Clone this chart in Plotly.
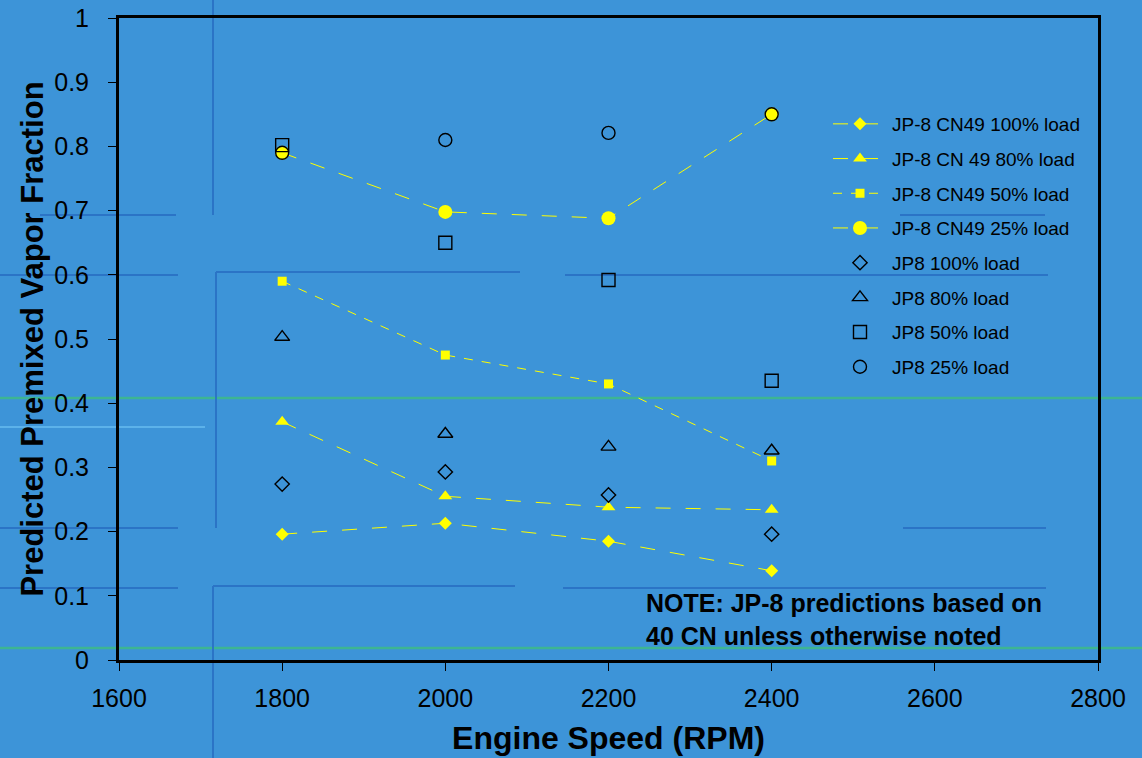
import plotly.graph_objects as go

rpm = [1800, 2000, 2200, 2400]

cn49_100 = [0.196, 0.213, 0.185, 0.139]
cn49_80 = [0.371, 0.255, 0.238, 0.234]
cn49_50 = [0.590, 0.475, 0.430, 0.310]
cn49_25 = [0.790, 0.698, 0.688, 0.850]

jp8_100 = [0.274, 0.293, 0.257, 0.196]
jp8_80 = [0.503, 0.352, 0.332, 0.326]
jp8_50 = [0.802, 0.650, 0.592, 0.435]
jp8_25 = [0.790, 0.810, 0.821, 0.850]

x_ticks = [1600, 1800, 2000, 2200, 2400, 2600, 2800]
y_ticks = [0, 0.1, 0.2, 0.3, 0.4, 0.5, 0.6, 0.7, 0.8, 0.9, 1]

BG = "#3d94d8"
YEL = "#ffff00"
FONT = "Liberation Sans, Arial, sans-serif"

W, H = 1142, 758
ML, MR, MT, MB = 119, 44, 18, 98
PW, PH = W - ML - MR, H - MT - MB

fig = go.Figure()

filled_series = [
    ("JP-8 CN49 100% load", cn49_100, "diamond", 10, "longdash"),
    ("JP-8 CN 49 80% load", cn49_80, "triangle-up", 12, "longdash"),
    ("JP-8 CN49 50% load", cn49_50, "square", 9, "dash"),
    ("JP-8 CN49 25% load", cn49_25, "circle", 14, "longdash"),
]
open_series = [
    ("JP8 100% load", jp8_100, "diamond-open", 11),
    ("JP8 80% load", jp8_80, "triangle-up-open", 13),
    ("JP8 50% load", jp8_50, "square-open", 13),
    ("JP8 25% load", jp8_25, "circle-open", 13),
]

rank = 0
for name, ys, sym, size, dash in filled_series:
    rank += 1
    fig.add_trace(go.Scatter(
        x=rpm, y=ys, name=name, mode="lines+markers",
        line=dict(color=YEL, width=1, dash=dash),
        marker=dict(symbol=sym, size=size, color=YEL, line=dict(width=0)),
        legendgroup=name, legendrank=rank,
    ))
for name, ys, sym, size in open_series:
    rank += 1
    fig.add_trace(go.Scatter(
        x=rpm, y=ys, name=name, mode="markers",
        marker=dict(symbol=sym, size=size, color="black", line=dict(width=1.4, color="black")),
        legendgroup=name, legendrank=rank,
    ))


def px(x):
    return (x - ML) / PW


def py(y):
    return (H - MB - y) / PH


# decorative slide-background lines (pixel positions converted to paper coords)
DARK = "#2b74c6"
GREEN = "#3db592"
CYAN = "#67bdf0"
deco = [
    (0, 1142, 398, GREEN, 2.5),
    (0, 1142, 648, GREEN, 2.5),
    (0, 205, 427, CYAN, 1.5),
    (40, 176, 215, DARK, 2),
    (900, 1045, 215, DARK, 2),
    (0, 178, 275, DARK, 2),
    (216, 520, 272, DARK, 2),
    (565, 1048, 275, DARK, 2),
    (0, 178, 528, DARK, 2),
    (903, 1046, 528, DARK, 2),
    (0, 178, 588, DARK, 2),
    (213, 515, 586, DARK, 2),
    (563, 1046, 588, DARK, 2),
]
for x0, x1, y, c, w in deco:
    fig.add_shape(type="line", xref="paper", yref="paper",
                  x0=px(x0), x1=px(x1), y0=py(y), y1=py(y),
                  line=dict(color=c, width=w), layer="below")
vdeco = [
    (213, 0, 215),
    (216, 272, 528),
    (213, 586, 758),
]
for x, y0, y1 in vdeco:
    fig.add_shape(type="line", xref="paper", yref="paper",
                  x0=px(x), x1=px(x), y0=py(y0), y1=py(y1),
                  line=dict(color=DARK, width=2), layer="below")

fig.add_annotation(
    text="NOTE: JP-8 predictions based on<br>40 CN unless otherwise noted",
    xref="x", yref="y", x=2244, y=0.063, xanchor="left", yanchor="middle",
    showarrow=False, align="left",
    font=dict(family=FONT, size=25, color="black", weight="bold"),
)

fig.update_layout(
    width=W, height=H,
    paper_bgcolor=BG, plot_bgcolor=BG,
    margin=dict(l=ML, r=MR, t=MT, b=MB),
    font=dict(family=FONT, color="black"),
    showlegend=True,
    legend=dict(
        x=px(828), y=py(105), xanchor="left", yanchor="top",
        bgcolor="rgba(0,0,0,0)", font=dict(size=19, color="black"),
        traceorder="grouped", tracegroupgap=7, itemwidth=54,
    ),
    xaxis=dict(
        range=[1600, 2800], tickvals=x_ticks, showgrid=False, zeroline=False,
        showline=True, linecolor="black", linewidth=3, mirror=True,
        ticks="outside", ticklen=8, tickcolor="black", tickwidth=1,
        ticklabelstandoff=6, automargin=False,
        tickfont=dict(size=25, color="black"),
        title=dict(text="<b>Engine Speed (RPM)</b>", font=dict(size=32, color="black"), standoff=16),
    ),
    yaxis=dict(
        range=[0, 1], tickvals=y_ticks, ticktext=[f"{v:g}" for v in y_ticks],
        showgrid=False, zeroline=False,
        showline=True, linecolor="black", linewidth=3, mirror=True,
        ticks="outside", ticklen=8, tickcolor="black", tickwidth=1,
        ticklabelstandoff=14, automargin=False,
        tickfont=dict(size=25, color="black"),
        title=dict(text="<b>Predicted Premixed Vapor Fraction</b>", font=dict(size=31, color="black"), standoff=2),
    ),
)

fig.write_html(
    "out.html",
    config={"displayModeBar": False},
    post_script="document.body.style.margin='0';document.body.style.overflow='hidden';",
)
